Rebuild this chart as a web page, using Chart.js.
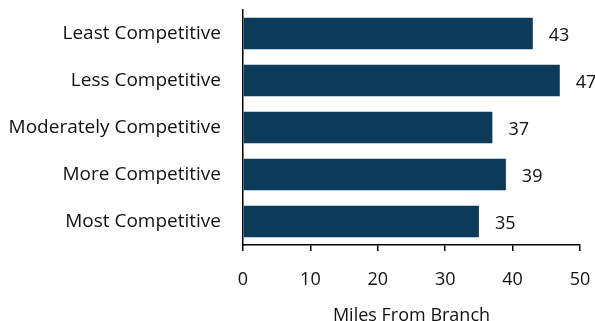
<!DOCTYPE html>
<html>
<head>
<meta charset="utf-8">
<script src="https://cdn.jsdelivr.net/npm/chart.js@4/dist/chart.umd.min.js"></script>
<style>
  html, body { margin: 0; padding: 0; background: #fff; }
  #wrap { width: 595px; height: 321px; }
</style>
</head>
<body>
<div id="wrap"><canvas id="milesChart" width="595" height="321"></canvas></div>
<script>
// Average distance to branch, by market competitiveness
var categories = ['Least Competitive', 'Less Competitive', 'Moderately Competitive', 'More Competitive', 'Most Competitive'];
var miles = [43, 47, 37, 39, 35];
var xTicks = [0, 10, 20, 30, 40, 50];

var FONT = '"Open Sans", "Noto Sans", sans-serif';
var SIZE = 18;

// writes the value just past the end of each bar
var barValues = {
  id: 'barValues',
  afterDatasetsDraw: function(chart) {
    var ctx = chart.ctx;
    var meta = chart.getDatasetMeta(0);
    ctx.save();
    ctx.font = SIZE + 'px ' + FONT;
    ctx.fillStyle = '#111';
    ctx.textAlign = 'left';
    ctx.textBaseline = 'middle';
    meta.data.forEach(function(bar, i) {
      ctx.fillText(String(miles[i]), bar.x + 16, bar.y + 2);
    });
    ctx.restore();
  }
};

new Chart(document.getElementById('milesChart'), {
  type: 'bar',
  data: {
    labels: categories,
    datasets: [{
      data: miles,
      backgroundColor: '#0b3a5b',
      borderWidth: 0,
      categoryPercentage: 0.675,
      barPercentage: 1
    }]
  },
  options: {
    indexAxis: 'y',
    responsive: false,
    animation: false,
    layout: { padding: { top: 10, right: 15, left: 0, bottom: -2 } },
    plugins: { legend: { display: false }, tooltip: { enabled: false } },
    scales: {
      x: {
        min: 0, max: 50,
        afterBuildTicks: function(scale) {
          scale.ticks = xTicks.map(function(v) { return { value: v }; });
        },
        afterFit: function(scale) { scale.paddingRight = 0; scale.paddingLeft = 0; },
        border: { display: true, color: '#000', width: 1.5 },
        grid: { display: true, drawOnChartArea: false, drawTicks: true, tickLength: 6, color: '#000', lineWidth: 1.5 },
        ticks: { color: '#111', font: { family: FONT, size: SIZE }, padding: 18 },
        title: { display: true, text: 'Miles From Branch', color: '#111', font: { family: FONT, size: SIZE, lineHeight: 0.8 }, padding: { top: 0, bottom: 0 } }
      },
      y: {
        afterFit: function(scale) {
          scale.width = 243;
          scale.paddingTop = 0;
          scale.paddingBottom = 0;
        },
        border: { display: true, color: '#000', width: 1.5 },
        grid: { display: false },
        ticks: { color: '#111', font: { family: FONT, size: 19 }, padding: 14 }
      }
    }
  },
  plugins: [barValues]
});
</script>
</body>
</html>
